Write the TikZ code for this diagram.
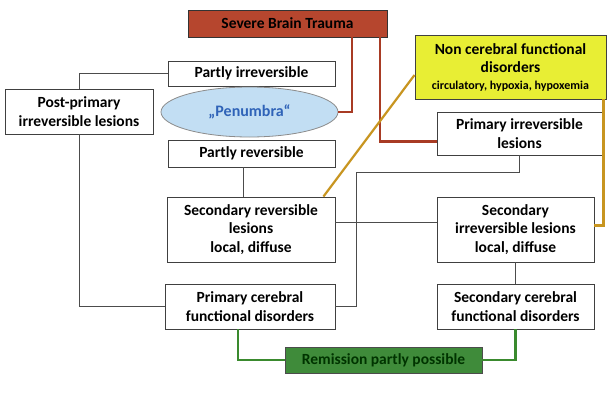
\documentclass[tikz,border=0pt]{standalone}
\usepackage{fontspec}
\setmainfont{Carlito}
\usepackage{xcolor}
\usepackage{tikz}
\usetikzlibrary{shapes.geometric}
\definecolor{traumared}{HTML}{B6462E}
\definecolor{traumaline}{HTML}{A83B24}
\definecolor{ncyellow}{HTML}{E8EE34}
\definecolor{goldline}{HTML}{C89520}
\definecolor{remgreen}{HTML}{3F8B3A}
\definecolor{remline}{HTML}{3A8A2E}
\definecolor{penfill}{HTML}{C2DEF3}
\definecolor{pentext}{HTML}{2F63B8}

\begin{document}
\begin{tikzpicture}[x=1pt,y=-1pt,
  box/.style={draw=black!75,fill=white,line width=0.9pt,align=center,inner sep=0pt,
    font=\bfseries\fontsize{15.5}{18.5}\selectfont},
  link/.style={draw=black!70,line width=0.8pt},
  redlink/.style={draw=traumaline,line width=2.2pt},
  goldlink/.style={draw=goldline,line width=2.2pt},
  greenlink/.style={draw=remline,line width=2.2pt}]
  \fill[white] (0,0) rectangle (614,407);
  \useasboundingbox (0,0) rectangle (614,407);
  \node[box,fill=traumared,draw=black!80,minimum width=199pt,minimum height=27pt] (trauma) at (287.5,23.5) {Severe Brain Trauma};
  \node[box,minimum width=167pt,minimum height=25pt] (pirr) at (251.5,73.5) {Partly irreversible};
  \node[box,minimum width=148pt,minimum height=45pt] (post) at (79,111.5) {Post-primary\\irreversible lesions};
  \node[draw=black!45,fill=penfill,ellipse,line width=0.8pt,inner sep=0pt,minimum width=177pt,minimum height=50pt,
    text=pentext,font=\bfseries\fontsize{16}{18}\selectfont] (pen) at (249.5,112) {„Penumbra“};
  \node[box,minimum width=167pt,minimum height=27pt] (prev) at (251.5,153.5) {Partly reversible};
  \node[box,fill=ncyellow,minimum width=191pt,minimum height=64pt] (noncer) at (510.5,67)
    {Non cerebral functional\\disorders\\[-2pt]{\fontsize{12}{13}\selectfont circulatory, hypoxia, hypoxemia}};
  \node[box,minimum width=165pt,minimum height=43pt] (primirr) at (519.5,133.5) {Primary irreversible\\lesions};
  \node[box,minimum width=168pt,minimum height=65pt] (secrev) at (251,229.5) {Secondary reversible\\lesions\\local, diffuse};
  \node[box,minimum width=157pt,minimum height=65pt] (secirr) at (515.5,229.5) {Secondary\\irreversible lesions\\local, diffuse};
  \node[box,minimum width=170pt,minimum height=45pt] (primcer) at (250,306.5) {Primary cerebral\\functional disorders};
  \node[box,minimum width=157pt,minimum height=45pt] (seccer) at (515.5,306.5) {Secondary cerebral\\functional disorders};
  \node[box,fill=remgreen,draw=black!70,text=black!80!green,minimum width=197pt,minimum height=26pt] (remis) at (383.5,360) {Remission partly possible};
  \coordinate (bend) at (356,172);

  \draw[redlink] ([xshift=64.5pt]trauma.south) |- (pen.east);
  \draw[redlink] ([xshift=92.5pt]trauma.south) |- ([yshift=-8pt]primirr.west);
  \draw[link] (pirr.west) -| (post.north);
  \draw[link] (post.south) |- (primcer.west);
  \draw[link] ([xshift=-8pt]prev.south) -- ([xshift=-8pt]prev.south |- secrev.north);
  \draw[link] (primirr.south) |- (bend) |- (primcer.east);
  \draw[link] ([yshift=7pt]secrev.east) -- ([yshift=7pt]secirr.west);
  \draw[link] (secirr.south) -- (seccer.north);
  \draw[goldlink] ([yshift=-8pt]noncer.west) -- ([xshift=-12pt]secrev.north east);
  \draw[goldlink] ([xshift=-3pt]noncer.south east) |- ([yshift=4pt]secirr.east);
  \draw[greenlink] ([xshift=-12pt]primcer.south) |- (remis.west);
  \draw[greenlink] (seccer.south) |- (remis.east);
\end{tikzpicture}
\end{document}
